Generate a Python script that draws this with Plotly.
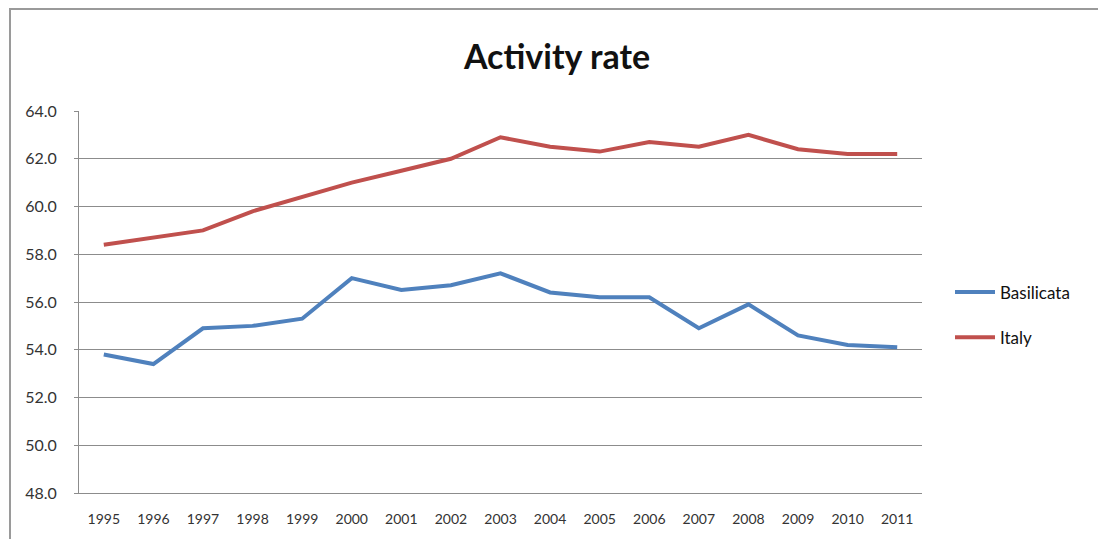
import plotly.graph_objects as go

# Activity rate (%), 1995-2011
years = ["1995", "1996", "1997", "1998", "1999", "2000", "2001", "2002", "2003",
         "2004", "2005", "2006", "2007", "2008", "2009", "2010", "2011"]
basilicata = [53.8, 53.4, 54.9, 55.0, 55.3, 57.0, 56.5, 56.7, 57.2,
              56.4, 56.2, 56.2, 54.9, 55.9, 54.6, 54.2, 54.1]
italy = [58.4, 58.7, 59.0, 59.8, 60.4, 61.0, 61.5, 62.0, 62.9,
         62.5, 62.3, 62.7, 62.5, 63.0, 62.4, 62.2, 62.2]
y_ticks = [48, 50, 52, 54, 56, 58, 60, 62, 64]

W, H = 1098, 539
L, R, T, B = 79, 922, 111, 493  # plot area in pixels


def px_x(p):
    return (p - L) / (R - L)


def px_y(p):
    return (B - p) / (B - T)


fig = go.Figure()
fig.add_trace(go.Scatter(x=years, y=basilicata, name="Basilicata", mode="lines",
                         line=dict(color="#4F81BD", width=4), legendgroup="b"))
fig.add_trace(go.Scatter(x=years, y=italy, name="Italy", mode="lines",
                         line=dict(color="#C0504D", width=4), legendgroup="i"))

# outer chart frame
fig.add_shape(type="rect", xref="paper", yref="paper",
              x0=px_x(10), x1=px_x(1110), y0=px_y(550), y1=px_y(9),
              line=dict(color="#9A9A9A", width=2), fillcolor="rgba(0,0,0,0)", layer="below")

fig.update_layout(
    width=W, height=H,
    margin=dict(l=L, r=W - R, t=T, b=H - B, pad=0, autoexpand=False),
    paper_bgcolor="white", plot_bgcolor="white",
    font=dict(family="Lato, Open Sans, sans-serif", color="#333333"),
    title=dict(text="<b>Activity rate</b>", x=px_x(557), xanchor="center", xref="paper",
               y=1 - 57 / H, yanchor="middle", font=dict(size=34, color="#111111")),
    showlegend=True,
    legend=dict(x=px_x(950), y=px_y(315), xanchor="left", yanchor="middle",
                font=dict(size=17, color="#111111"), tracegroupgap=20,
                bgcolor="rgba(0,0,0,0)", itemwidth=40),
    xaxis=dict(type="category", range=[-0.5, len(years) - 0.5], automargin=False,
               showgrid=False, showline=True, linecolor="#8C8C8C",
               linewidth=1, ticks="", tickfont=dict(size=14, color="#333333"),
               ticklabelstandoff=13, fixedrange=True),
    yaxis=dict(range=[48, 64], tickvals=y_ticks, tickformat=".1f", automargin=False,
               showgrid=True, gridcolor="#8C8C8C", gridwidth=1,
               showline=True, linecolor="#8C8C8C", linewidth=1,
               ticks="outside", ticklen=4, tickcolor="#8C8C8C",
               ticklabelstandoff=14,
               tickfont=dict(size=16, color="#333333"), zeroline=False, fixedrange=True),
)

fig.write_html("out.html")
